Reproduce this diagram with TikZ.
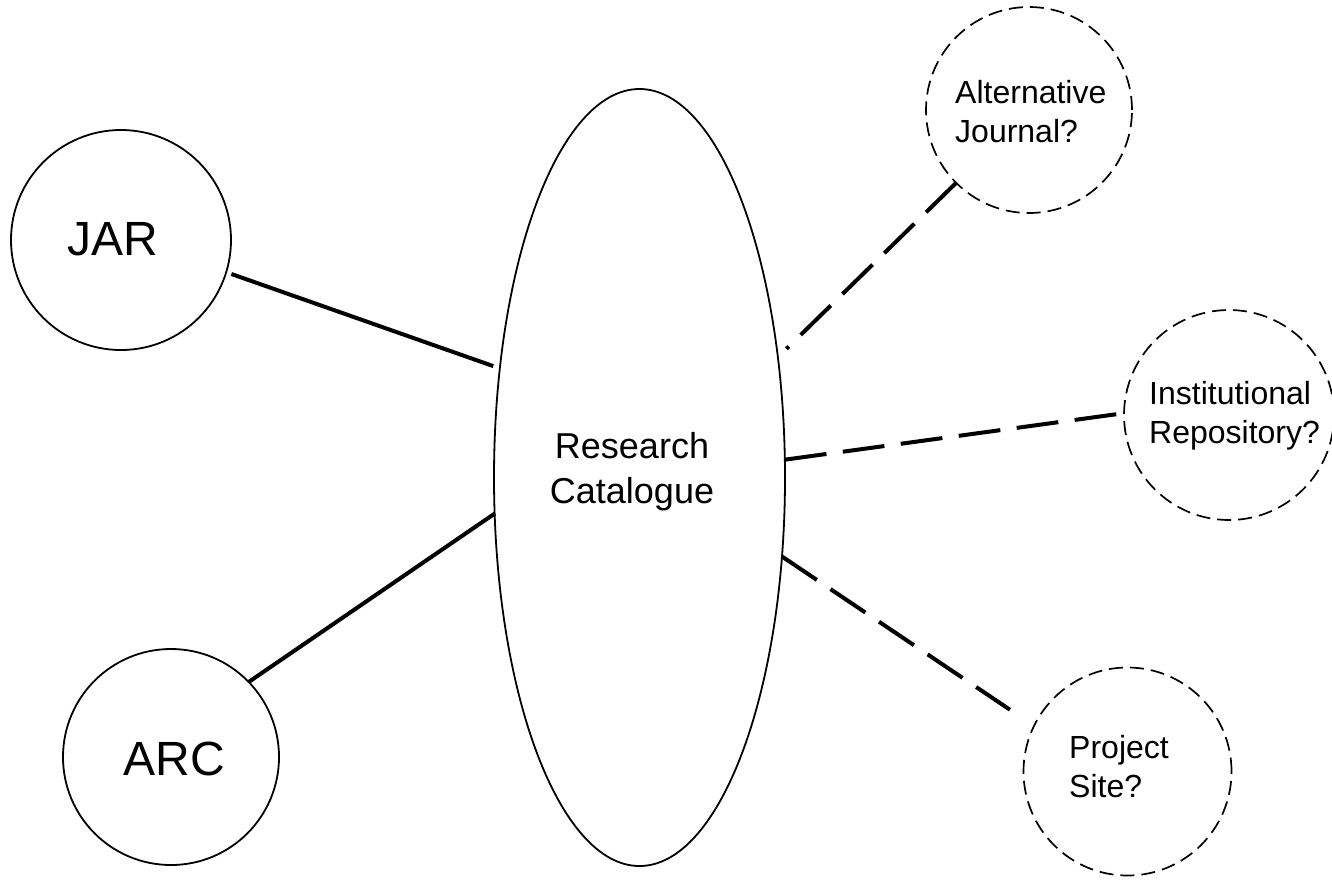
\documentclass[tikz,border=0pt]{standalone}
\usepackage{fontspec}
\setmainfont{Liberation Sans}
\usetikzlibrary{shapes.geometric}
\begin{document}
\begin{tikzpicture}[x=1pt,y=-1pt,
  solidcirc/.style={draw, circle, line width=1.8pt, inner sep=0pt, outer sep=0pt},
  dashcirc/.style={draw, circle, line width=1.7pt, dash pattern=on 14pt off 7pt, inner sep=0pt, outer sep=0pt},
  link/.style={line width=4pt},
  dlink/.style={line width=4pt, dash pattern=on 42pt off 16.5pt},
  bigtxt/.style={font=\fontsize{48pt}{58pt}\selectfont, inner sep=0pt, anchor=base},
  midtxt/.style={font=\fontsize{36pt}{45pt}\selectfont, inner sep=0pt, align=center, anchor=base},
  smalltxt/.style={font=\fontsize{32pt}{39pt}\selectfont, inner sep=0pt, align=left, anchor=base west},
]
\useasboundingbox (0,0) rectangle (1332,879);
% shapes
\node[solidcirc, minimum size=220pt] (jar) at (121,240) {};
\node[solidcirc, minimum size=216pt] (arc) at (171,757) {};
\node[draw, ellipse, line width=1.8pt, minimum width=291pt, minimum height=777pt, inner sep=0pt, outer sep=0pt] (rc) at (639.5,477.5) {};
\node[dashcirc, minimum size=206pt] (alt) at (1029,110) {};
\node[dashcirc, minimum size=210pt] (inst) at (1229,415) {};
\node[dashcirc, minimum size=208pt] (proj) at (1127.5,771.5) {};
% texts (base anchor = baseline of the last line)
\node[bigtxt] (jartxt) at (112.5,255) {JAR};
\node[bigtxt] (arctxt) at (174.5,775) {ARC};
\node[midtxt] (rctxt) at (632,503) {Research\\Catalogue};
\node[smalltxt] (alttxt) at (955,142) {Alternative\\Journal?};
\node[smalltxt] (insttxt) at (1149,443) {Institutional\\Repository?};
\node[smalltxt] (projtxt) at (1069,797) {Project\\Site?};
% connectors
\draw[link, shorten <=5.5pt, shorten >=7pt] (jar.-17.6) -- (rc.142.3);
\draw[link] (arc.44.6) -- (rc.194.5);
\draw[dlink, shorten >=12pt] (alt.225) -- (rc.41.5);
\draw[dlink] (rc.7.64) -- (inst.179);
\draw[dlink, shorten >=29pt] (rc.-29.2) -- (proj.154.1);
\end{tikzpicture}
\end{document}
